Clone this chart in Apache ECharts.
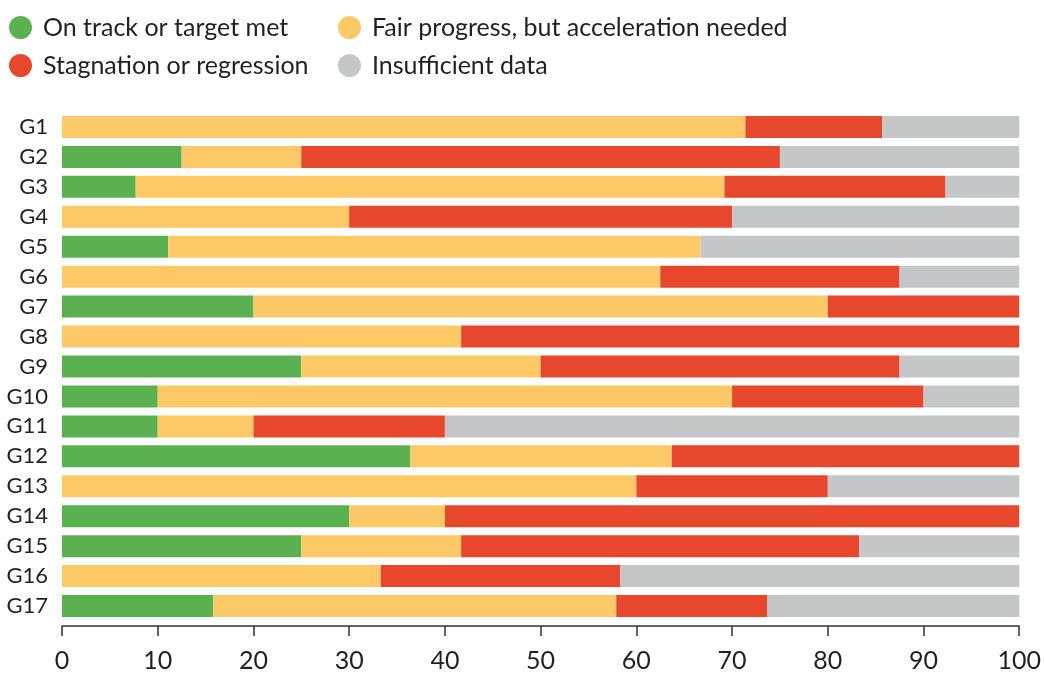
<!DOCTYPE html>
<html>
<head>
<meta charset="utf-8">
<script src="https://cdn.jsdelivr.net/npm/echarts@6/dist/echarts.min.js"></script>
<style>
  html, body { margin: 0; padding: 0; background: #fff; }
  #chart { width: 1044px; height: 673px; }
</style>
</head>
<body>
<div id="chart"></div>
<script>
// goals, top to bottom
const goals = ["G1", "G2", "G3", "G4", "G5", "G6", "G7", "G8", "G9",
  "G10", "G11", "G12", "G13", "G14", "G15", "G16", "G17"];

// share of indicators (%) per status
const onTrack      = [0, 12.5, 7.7, 0, 11.1, 0, 20, 0, 25, 10, 10, 36.4, 0, 30, 25, 0, 15.8];
const fairProgress = [71.4, 12.5, 61.5, 30, 55.6, 62.5, 60, 41.7, 25, 60, 10, 27.3, 60, 10, 16.7, 33.3, 42.1];
const stagnation   = [14.3, 50, 23.1, 40, 0, 25, 20, 58.3, 37.5, 20, 20, 36.3, 20, 60, 41.6, 25, 15.8];
const insufficient = [14.3, 25, 7.7, 30, 33.3, 12.5, 0, 0, 12.5, 10, 60, 0, 20, 0, 16.7, 41.7, 26.3];

const xTicks = [0, 10, 20, 30, 40, 50, 60, 70, 80, 90, 100];

const names = ["On track or target met", "Fair progress, but acceleration needed",
  "Stagnation or regression", "Insufficient data"];
const colors = ["#5bb04f", "#fdc966", "#e6472d", "#c5c6c8"];
const textColor = "#231f20";
const font = "Lato";

let myChart = echarts.init(document.getElementById("chart"));

function bar(name, data, color) {
  return {
    name: name,
    type: "bar",
    stack: "all",
    data: data,
    barWidth: 22,
    itemStyle: { color: color },
    emphasis: { disabled: true }
  };
}

let legendBase = {
  orient: "vertical",
  top: 10,
  itemWidth: 23,
  itemHeight: 23,
  itemGap: 13,
  icon: "circle",
  selectedMode: false,
  textStyle: {
    color: textColor,
    fontFamily: font,
    fontSize: 25,
    padding: [0, 0, 0, 6]
  }
};

let option = {
  animation: false,
  textStyle: { fontFamily: font },
  legend: [
    Object.assign({}, legendBase, { left: 4, data: [names[0], names[2]] }),
    Object.assign({}, legendBase, { left: 333, data: [names[1], names[3]] })
  ],
  grid: {
    left: 62,
    right: 24,
    top: 112,
    bottom: 50
  },
  xAxis: {
    type: "value",
    min: xTicks[0],
    max: xTicks[xTicks.length - 1],
    interval: xTicks[1] - xTicks[0],
    offset: 5,
    splitLine: { show: false },
    axisLine: { show: true, lineStyle: { color: "#333", width: 1.5 } },
    axisTick: { show: true, length: 10, lineStyle: { color: "#333", width: 1.5 } },
    axisLabel: {
      color: textColor,
      fontFamily: font,
      fontSize: 25,
      margin: 22
    }
  },
  yAxis: {
    type: "category",
    data: goals,
    inverse: true,
    axisLine: { show: false },
    axisTick: { show: false },
    axisLabel: {
      color: textColor,
      fontFamily: font,
      fontSize: 22,
      margin: 14
    }
  },
  series: [
    bar(names[0], onTrack, colors[0]),
    bar(names[1], fairProgress, colors[1]),
    bar(names[2], stagnation, colors[2]),
    bar(names[3], insufficient, colors[3])
  ]
};

myChart.setOption(option);
</script>
</body>
</html>
